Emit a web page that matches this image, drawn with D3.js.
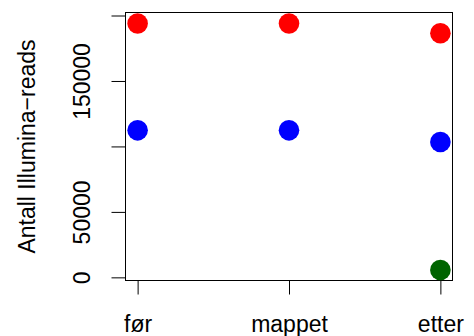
<!DOCTYPE html>
<html>
<head>
<meta charset="utf-8">
<script src="https://cdn.jsdelivr.net/npm/d3@7"></script>
<style>
  html, body { margin: 0; padding: 0; background: #fff; }
  svg { display: block; }
  text { font-family: "Liberation Sans", Arial, Helvetica, sans-serif; fill: #000; }
</style>
</head>
<body>
<svg id="chart" width="474" height="336"></svg>
<script>
// Stages of the read-filtering pipeline
const categories = ["før", "mappet", "etter"];

// Number of Illumina reads per stage, one array per series
const seriesRed   = [193900, 193900, 186500];
const seriesBlue  = [112300, 112300, 103400];
const seriesGreen = [null, null, 5600];

const seriesColors = ["#ff0000", "#0000ff", "#006400"];

// Y-axis ticks; some labels are left blank where they would overlap
const yTickValues = [0, 50000, 100000, 150000, 200000];
const yTickLabels = ["0", "50000", "", "150000", ""];

const yTitle = "Antall Illumina\u2212reads";

const W = 474, H = 336;
const box = { left: 125.5, right: 452.5, top: 12.5, bottom: 280.5 };
const fontSize = 23;

const svg = d3.select("#chart");

// x positions 1..3 with 4% padding on each side
const x = d3.scaleLinear()
  .domain([1 - 0.08, 3 + 0.08])
  .range([box.left, box.right]);

const y = d3.scaleLinear()
  .domain([-2400, 202300])
  .range([box.bottom, box.top]);

// Plot frame
svg.append("rect")
  .attr("x", box.left).attr("y", box.top)
  .attr("width", box.right - box.left)
  .attr("height", box.bottom - box.top)
  .attr("fill", "none").attr("stroke", "#000").attr("stroke-width", 1);

// Y axis
const yAxis = d3.axisLeft(y)
  .tickValues(yTickValues)
  .tickSize(14)
  .tickFormat((d, i) => yTickLabels[i]);
const gy = svg.append("g")
  .attr("transform", `translate(${box.left},0)`)
  .call(yAxis);
gy.select(".domain")
  .attr("d", `M-0,${y(yTickValues[0])}V${y(yTickValues[yTickValues.length - 1])}`)
  .attr("stroke", "#000");
gy.selectAll(".tick line").attr("stroke", "#000");
gy.selectAll(".tick text")
  .attr("x", null).attr("dy", null)
  .attr("transform", "translate(-35.5,0) rotate(-90)")
  .attr("text-anchor", "middle")
  .style("font-size", fontSize + "px")
  .style("font-family", "'Liberation Sans', Arial, sans-serif")
  .attr("fill", "#000");

// X axis
const xAxis = d3.axisBottom(x)
  .tickValues([1, 2, 3])
  .tickSize(14)
  .tickFormat((d, i) => categories[i]);
const gx = svg.append("g")
  .attr("transform", `translate(0,${box.bottom})`)
  .call(xAxis);
gx.select(".domain")
  .attr("d", `M${x(1)},0H${x(3)}`)
  .attr("stroke", "#000");
gx.selectAll(".tick line").attr("stroke", "#000");
gx.selectAll(".tick text")
  .attr("y", 51).attr("dy", null)
  .style("font-size", fontSize + "px")
  .style("font-family", "'Liberation Sans', Arial, sans-serif")
  .attr("fill", "#000");

// Y title
svg.append("text")
  .attr("transform", `translate(35,${(box.top + box.bottom) / 2}) rotate(-90)`)
  .attr("text-anchor", "middle")
  .style("font-size", fontSize + "px")
  .text(yTitle);

// Points
const series = [seriesRed, seriesBlue, seriesGreen];
series.forEach((vals, s) => {
  svg.append("g")
    .selectAll("circle")
    .data(vals.map((v, i) => ({ i, v })).filter(d => d.v !== null))
    .join("circle")
    .attr("cx", d => x(d.i + 1))
    .attr("cy", d => y(d.v))
    .attr("r", 10.3)
    .attr("fill", seriesColors[s]);
});
</script>
</body>
</html>
